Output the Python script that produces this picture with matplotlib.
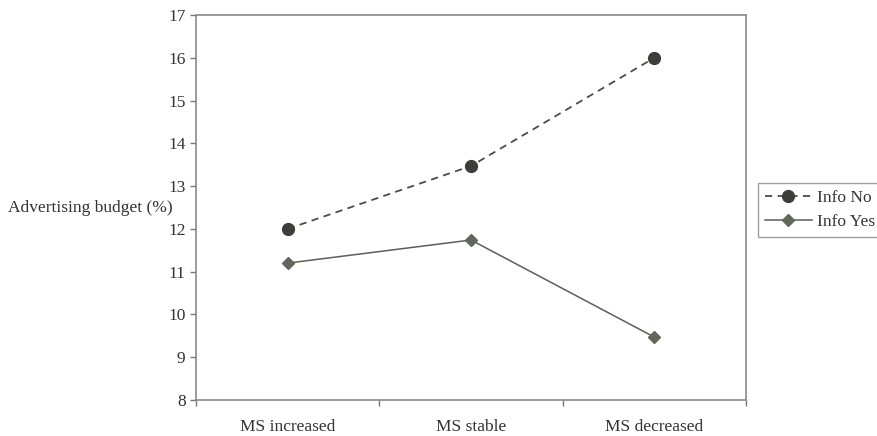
import matplotlib
matplotlib.use("Agg")
import matplotlib.pyplot as plt

# data
categories = ["MS increased", "MS stable", "MS decreased"]
info_no = [12.0, 13.47, 16.0]
info_yes = [11.2, 11.74, 9.47]
y_ticks = [8, 9, 10, 11, 12, 13, 14, 15, 16, 17]

plt.rcParams['font.family'] = ['Liberation Serif', 'DejaVu Serif']
plt.rcParams['font.size'] = 12.5

W, H = 878, 436
fig = plt.figure(figsize=(W / 100, H / 100), dpi=100)
ax = fig.add_axes([196 / W, (H - 400) / H, (746 - 196) / W, (400 - 15) / H])

x = list(range(len(categories)))
ax.plot(x, info_no, linestyle=(0, (4, 3)), color="#4a4d48", linewidth=1.3,
        marker="o", markersize=8.5, markerfacecolor="#3b3e39",
        markeredgecolor="#3b3e39", label="Info No")
ax.plot(x, info_yes, linestyle="-", color="#5a6055", linewidth=1.1,
        marker="D", markersize=6.5, markerfacecolor="#5f685a",
        markeredgecolor="#5f685a", label="Info Yes")

ax.set_xlim(-0.5, len(categories) - 0.5)
ax.set_ylim(8, 17)
ax.set_yticks(y_ticks)
ax.set_xticks([i - 0.5 for i in range(len(categories) + 1)])
ax.set_xticklabels([])
ax.set_xticks(x, minor=True)
ax.set_xticklabels(categories, minor=True)
ax.tick_params(axis="x", which="minor", length=0, pad=14)
ax.tick_params(axis="both", which="major", length=4, width=1, color="#777777",
               colors="#333333")
ax.tick_params(axis="x", which="minor", colors="#333333")

for s in ax.spines.values():
    s.set_color("#8a8a8a")
    s.set_linewidth(1.2)

fig.text(8 / W, (H - 208) / H, "Advertising budget (%)", ha="left", va="center",
         color="#333333")

leg = fig.legend(loc="upper left", bbox_to_anchor=(758 / W, (H - 183) / H),
                 frameon=True, fancybox=False, borderaxespad=0, borderpad=0.4,
                 handlelength=2.7, handletextpad=0.3, labelspacing=0.45)
leg.get_frame().set_edgecolor("#888888")
leg.get_frame().set_linewidth(1.0)
for t in leg.get_texts():
    t.set_color("#333333")

fig.savefig("out.png", dpi=100)
